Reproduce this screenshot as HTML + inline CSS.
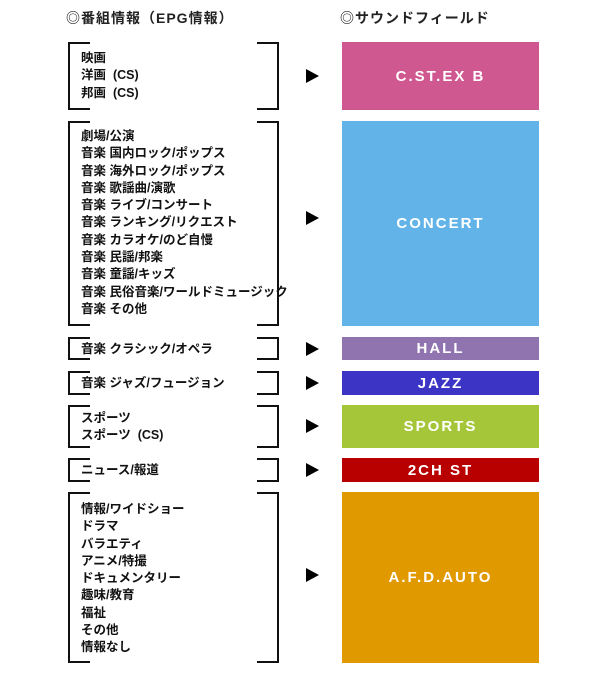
<!DOCTYPE html>
<html><head><meta charset="utf-8"><style>
body{margin:0;width:608px;height:676px;background:#fff;position:relative;font-family:"Liberation Sans","Noto Sans CJK JP",sans-serif;overflow:hidden}
.h{position:absolute;top:8px;font-size:14px;font-weight:bold;color:#222;letter-spacing:1px}
.bl,.br{position:absolute;border:2px solid #111;box-sizing:border-box}
.bl{left:68px;width:22px;border-right:none}
.br{left:257px;width:22px;border-left:none}
.t{position:absolute;left:81px;font-size:12.5px;font-weight:bold;line-height:17.3px;color:#111;white-space:nowrap}
.a{position:absolute;left:306px;width:0;height:0;border-left:13px solid #000;border-top:7px solid transparent;border-bottom:7px solid transparent}
.b{position:absolute;left:342px;width:197px;color:#fff;font-weight:bold;font-size:15px;letter-spacing:2px;display:flex;align-items:center;justify-content:center}
</style></head><body>
<div class="h" style="left:66px">◎番組情報（EPG情報）</div>
<div class="h" style="left:340px">◎サウンドフィールド</div>

<div class="bl" style="top:42px;height:68px"></div><div class="br" style="top:42px;height:68px"></div>
<div class="t" style="top:50px">映画<br>洋画&nbsp;&nbsp;(CS)<br>邦画&nbsp;&nbsp;(CS)</div>
<div class="a" style="top:69px"></div>
<div class="b" style="top:42px;height:68px;background:#d05890">C.ST.EX B</div>

<div class="bl" style="top:121px;height:205px"></div><div class="br" style="top:121px;height:205px"></div>
<div class="t" style="top:128px">劇場/公演<br>音楽 国内ロック/ポップス<br>音楽 海外ロック/ポップス<br>音楽 歌謡曲/演歌<br>音楽 ライブ/コンサート<br>音楽 ランキング/リクエスト<br>音楽 カラオケ/のど自慢<br>音楽 民謡/邦楽<br>音楽 童謡/キッズ<br>音楽 民俗音楽/ワールドミュージック<br>音楽 その他</div>
<div class="a" style="top:211px"></div>
<div class="b" style="top:121px;height:205px;background:#62b4e8">CONCERT</div>

<div class="bl" style="top:337px;height:23px"></div><div class="br" style="top:337px;height:23px"></div>
<div class="t" style="top:341px">音楽 クラシック/オペラ</div>
<div class="a" style="top:342px"></div>
<div class="b" style="top:337px;height:23px;background:#8f74b0">HALL</div>

<div class="bl" style="top:371px;height:24px"></div><div class="br" style="top:371px;height:24px"></div>
<div class="t" style="top:375px">音楽 ジャズ/フュージョン</div>
<div class="a" style="top:376px"></div>
<div class="b" style="top:371px;height:24px;background:#3c34c4">JAZZ</div>

<div class="bl" style="top:405px;height:43px"></div><div class="br" style="top:405px;height:43px"></div>
<div class="t" style="top:410px">スポーツ<br>スポーツ&nbsp;&nbsp;(CS)</div>
<div class="a" style="top:419px"></div>
<div class="b" style="top:405px;height:43px;background:#a6c63a">SPORTS</div>

<div class="bl" style="top:458px;height:24px"></div><div class="br" style="top:458px;height:24px"></div>
<div class="t" style="top:462px">ニュース/報道</div>
<div class="a" style="top:463px"></div>
<div class="b" style="top:458px;height:24px;background:#b80000">2CH ST</div>

<div class="bl" style="top:492px;height:171px"></div><div class="br" style="top:492px;height:171px"></div>
<div class="t" style="top:501px">情報/ワイドショー<br>ドラマ<br>バラエティ<br>アニメ/特撮<br>ドキュメンタリー<br>趣味/教育<br>福祉<br>その他<br>情報なし</div>
<div class="a" style="top:568px"></div>
<div class="b" style="top:492px;height:171px;background:#e09a00">A.F.D.AUTO</div>
</body></html>
